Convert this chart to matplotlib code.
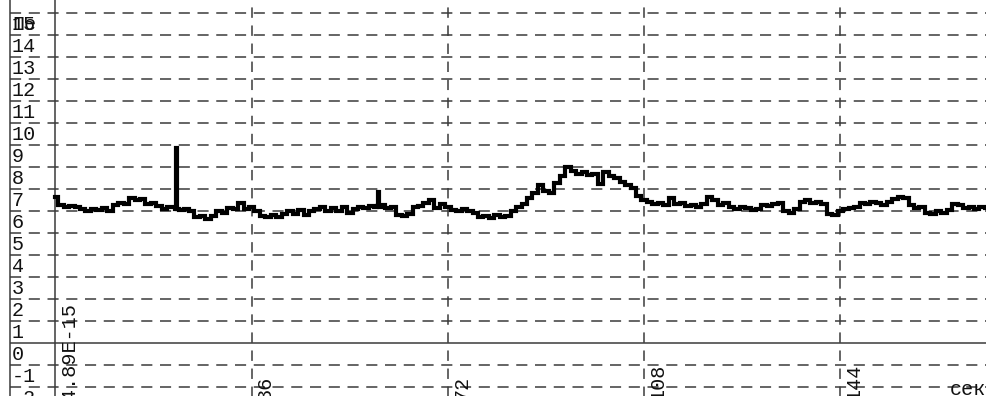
import numpy as np
import matplotlib
matplotlib.use("Agg")
import matplotlib.pyplot as plt

# Trace samples (one per second) and two short spikes
seconds = list(range(0, 172))
values = [
    6.65, 6.30, 6.20, 6.25, 6.20, 6.10, 6.00, 6.10, 6.05, 6.15,
    6.00, 6.30, 6.40, 6.35, 6.60, 6.50, 6.55, 6.35, 6.40, 6.25,
    6.10, 6.20, 6.10, 6.05, 6.10, 6.00, 5.75, 5.80, 5.65, 5.80,
    6.00, 5.95, 6.15, 6.10, 6.40, 6.10, 6.20, 6.00, 5.80, 5.75,
    5.85, 5.75, 5.90, 6.00, 5.90, 6.05, 5.85, 6.00, 6.10, 6.20,
    6.00, 6.15, 6.00, 6.20, 5.95, 6.10, 6.20, 6.15, 6.25, 6.20,
    6.30, 6.15, 6.20, 5.85, 5.80, 5.90, 6.20, 6.25, 6.40, 6.50,
    6.15, 6.35, 6.20, 6.05, 6.00, 6.10, 6.00, 5.95, 5.75, 5.80,
    5.70, 5.85, 5.75, 5.80, 6.00, 6.20, 6.35, 6.60, 6.85, 7.20,
    6.95, 6.85, 7.30, 7.60, 8.00, 7.85, 7.70, 7.80, 7.65, 7.70,
    7.25, 7.80, 7.60, 7.50, 7.35, 7.20, 7.05, 6.70, 6.50, 6.45,
    6.35, 6.40, 6.30, 6.60, 6.35, 6.40, 6.25, 6.30, 6.20, 6.35,
    6.65, 6.50, 6.30, 6.40, 6.20, 6.10, 6.20, 6.15, 6.05, 6.10,
    6.30, 6.25, 6.35, 6.40, 6.00, 5.95, 6.10, 6.45, 6.50, 6.40,
    6.45, 6.35, 5.90, 5.85, 6.00, 6.10, 6.15, 6.20, 6.40, 6.35,
    6.45, 6.40, 6.30, 6.45, 6.55, 6.65, 6.60, 6.30, 6.15, 6.20,
    5.95, 5.90, 6.00, 5.95, 6.05, 6.35, 6.30, 6.15, 6.20, 6.10,
    6.20, 6.15,
]
spike_seconds = [21.9, 22.1, 22.3, 59.1, 59.25, 59.4]
spike_values = [6.20, 8.90, 6.10, 6.25, 6.90, 6.20]

y_ticks = list(range(-2, 16))
x_ticks = [36, 72, 108, 144]
x_tick_labels = ["36", "72", "108", "144"]
origin_label = "4.89E-15"
unit_label = "сек"

plt.rcParams["lines.scale_dashes"] = False
FONT = ["Liberation Mono", "DejaVu Sans Mono"]

fig = plt.figure(figsize=(9.86, 3.96), dpi=100)
ax = fig.add_axes([0, 0, 1, 1])
ax.set_xlim(-10.18, 170.7)
ax.set_ylim(-2.39, 15.61)
ax.axis("off")

grid_col = "#3a3a3a"
left_edge = -8.3
dash = (0, (8, 5.5))

# horizontal grid
for k in y_ticks:
    if k == 0:
        ax.hlines(k, left_edge, 171, colors=grid_col, lw=1.1)
    else:
        ax.hlines(k, left_edge, 171, colors=grid_col, lw=1.1, linestyles=[dash])

# vertical lines
ax.vlines(left_edge, -3, 16, colors=grid_col, lw=1.1)
ax.vlines(0, -3, 16, colors=grid_col, lw=1.1)
for t in x_ticks:
    ax.vlines(t, -3, 16, colors=grid_col, lw=1.1, linestyles=[(0, (7.5, 5.5))])

# y labels sitting just below their gridlines
for k in y_ticks:
    ax.text(-8.0, k - 0.77, str(k), family=FONT, fontsize=14.5,
            ha="left", va="baseline", color="#111111", clip_on=True)
ax.text(-8.0, 15 - 0.77, "Пе", family=FONT, fontsize=14.5,
        ha="left", va="baseline", color="#111111")

# rotated x labels
for t, lab in zip([0] + x_ticks, [origin_label] + x_tick_labels):
    ax.text(t + 3.5, -2.57, lab, family=FONT, fontsize=14.5, rotation=90,
            rotation_mode="anchor", ha="left", va="baseline",
            color="#111111", clip_on=True)
ax.text(164.1, -2.34, unit_label, family=FONT, fontsize=14.5,
        ha="left", va="baseline", color="#111111", clip_on=True)

# trace
t_all = np.array(seconds + spike_seconds, dtype=float)
v_all = np.array(values + spike_values, dtype=float)
order = np.argsort(t_all, kind="stable")
ax.plot(t_all[order], v_all[order], color="black", lw=3.0,
        drawstyle="steps-mid", solid_joinstyle="miter")

fig.savefig("out.png", dpi=100)
